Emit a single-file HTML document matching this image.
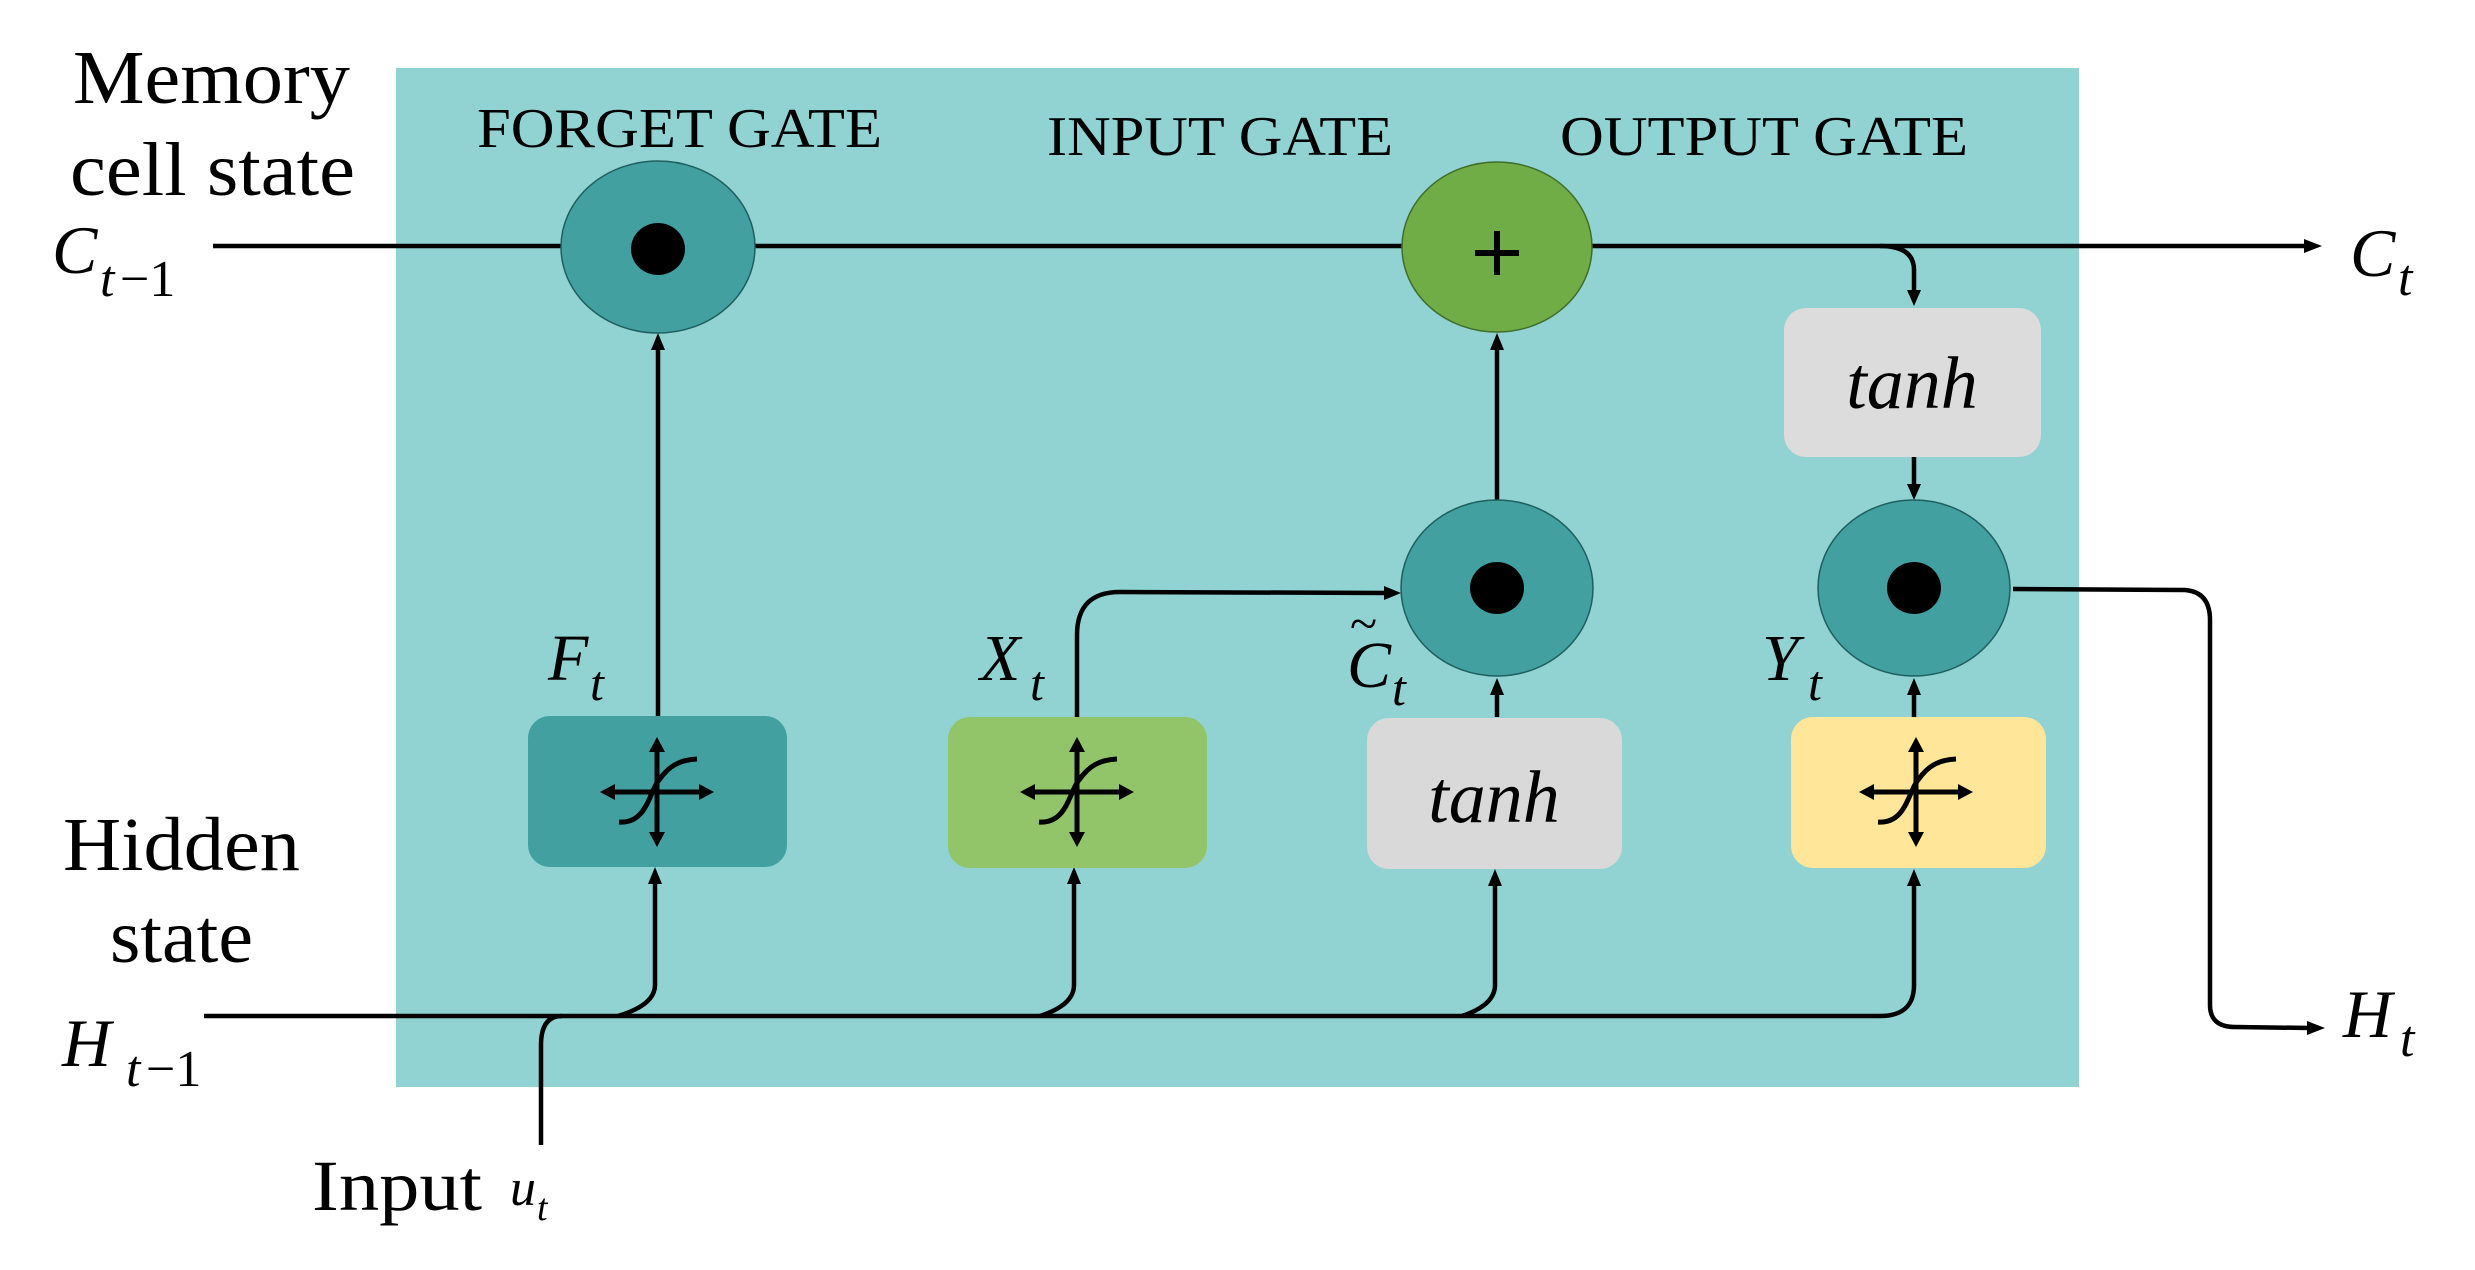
<!DOCTYPE html>
<html><head><meta charset="utf-8"><style>
html,body{margin:0;padding:0;background:#fff;}
svg{display:block;}
text{font-family:"Liberation Serif",serif;fill:#000;}
</style></head><body>
<svg width="2475" height="1270" viewBox="0 0 2475 1270" xmlns="http://www.w3.org/2000/svg">
<defs>
<marker id="ah" markerWidth="8" markerHeight="8" refX="6" refY="4" orient="auto" markerUnits="userSpaceOnUse" viewBox="0 0 8 8">
</marker>
<g id="sig">
 <line x1="-48" y1="0" x2="48" y2="0" stroke="#000" stroke-width="5"/>
 <polygon points="-57,0 -42,-8 -42,8" fill="#000"/>
 <polygon points="57,0 42,-8 42,8" fill="#000"/>
 <line x1="0" y1="-45" x2="0" y2="45" stroke="#000" stroke-width="5"/>
 <polygon points="0,-55 -8,-40 8,-40" fill="#000"/>
 <polygon points="0,55 -8,40 8,40" fill="#000"/>
 <path d="M-38,30 C-10,32 -8,0 2,-12 C12,-26 22,-32 40,-33" fill="none" stroke="#000" stroke-width="5"/>
</g>
</defs>
<rect x="396" y="68" width="1683" height="1019" fill="#91d3d3"/>

<!-- titles -->
<text x="477" y="147" font-size="56" textLength="405" lengthAdjust="spacingAndGlyphs">FORGET GATE</text>
<text x="1047" y="155" font-size="56" textLength="346" lengthAdjust="spacingAndGlyphs">INPUT GATE</text>
<text x="1560" y="155" font-size="56" textLength="408" lengthAdjust="spacingAndGlyphs">OUTPUT GATE</text>

<!-- left labels -->
<text x="73" y="103" font-size="76" textLength="277" lengthAdjust="spacingAndGlyphs">Memory</text>
<text x="70" y="195" font-size="76" textLength="285" lengthAdjust="spacingAndGlyphs">cell state</text>
<text x="52" y="273" font-size="68" font-style="italic">C</text>
<text x="100" y="296" font-size="52" font-style="italic">t</text>
<text x="120" y="296" font-size="52">−1</text>
<text x="63" y="870" font-size="76" textLength="237" lengthAdjust="spacingAndGlyphs">Hidden</text>
<text x="110" y="962" font-size="76" textLength="143" lengthAdjust="spacingAndGlyphs">state</text>
<text x="62" y="1066" font-size="68" font-style="italic">H</text>
<text x="126" y="1086" font-size="52" font-style="italic">t</text>
<text x="146" y="1086" font-size="52">−1</text>
<text x="312" y="1210" font-size="72" textLength="170" lengthAdjust="spacingAndGlyphs">Input</text>
<text x="510" y="1205" font-size="52" font-style="italic">u</text>
<text x="537" y="1220" font-size="38" font-style="italic">t</text>

<!-- right labels -->
<text x="2350" y="276" font-size="68" font-style="italic">C</text>
<text x="2398" y="295" font-size="52" font-style="italic">t</text>
<text x="2343" y="1037" font-size="68" font-style="italic">H</text>
<text x="2400" y="1056" font-size="52" font-style="italic">t</text>

<!-- C line -->
<g stroke="#000" stroke-width="4.5" fill="none">
 <line x1="213" y1="246" x2="2310" y2="246"/>
 <path d="M1880,246 Q1914,246 1914,270 L1914,296"/>
 <!-- H line -->
 <path d="M204,1016 L1880,1016 Q1914,1016 1914,985 L1914,880"/>
 <!-- input -->
 <path d="M541,1145 L541,1045 Q541,1016 562,1016"/>
 <!-- branches -->
 <path d="M618,1016 Q655,1005 655,985 L655,880"/>
 <path d="M1040,1016 Q1074,1005 1074,985 L1074,880"/>
 <path d="M1462,1016 Q1495,1005 1495,985 L1495,880"/>
 <!-- vertical arrows -->
 <line x1="658" y1="716" x2="658" y2="345"/>
 <line x1="1497" y1="501" x2="1497" y2="345"/>
 <line x1="1497" y1="717" x2="1497" y2="690"/>
 <line x1="1914" y1="457" x2="1914" y2="488"/>
 <line x1="1914" y1="717" x2="1914" y2="690"/>
 <!-- X to candidate -->
 <path d="M1077,717 L1077,635 Q1077,592 1120,592 L1388,593"/>
 <!-- H out -->
 <path d="M2013,589 L2185,590 Q2210,592 2210,620 L2210,1005 Q2210,1027 2235,1027 L2310,1028"/>
</g>
<!-- arrowheads -->
<g fill="#000">
 <polygon points="2322,246 2304,239 2304,253"/>
 <polygon points="2325,1028 2307,1021 2307,1035"/>
 <polygon points="1914,306 1907,290 1921,290"/>
 <polygon points="655,867 648,884 662,884"/>
 <polygon points="1074,867 1067,884 1081,884"/>
 <polygon points="1495,869 1488,886 1502,886"/>
 <polygon points="1914,869 1907,886 1921,886"/>
 <polygon points="658,333 651,350 665,350"/>
 <polygon points="1497,333 1490,350 1504,350"/>
 <polygon points="1497,678 1490,695 1504,695"/>
 <polygon points="1914,500 1907,484 1921,484"/>
 <polygon points="1914,678 1907,695 1921,695"/>
 <polygon points="1401,593 1384,586 1384,600"/>
</g>

<!-- circles -->
<ellipse cx="658" cy="247" rx="97" ry="86" fill="#42a0a0" stroke="#1f5f5f" stroke-width="1.5"/>
<ellipse cx="658" cy="249" rx="27" ry="26" fill="#000"/>
<ellipse cx="1497" cy="247" rx="95" ry="85" fill="#70ad47" stroke="#3f6f2a" stroke-width="1.5"/>
<line x1="1475" y1="253" x2="1519" y2="253" stroke="#000" stroke-width="6"/>
<line x1="1497" y1="231" x2="1497" y2="275" stroke="#000" stroke-width="6"/>
<ellipse cx="1497" cy="588" rx="96" ry="88" fill="#42a0a0" stroke="#1f5f5f" stroke-width="1.5"/>
<ellipse cx="1497" cy="588" rx="27" ry="26" fill="#000"/>
<ellipse cx="1914" cy="588" rx="96" ry="88" fill="#42a0a0" stroke="#1f5f5f" stroke-width="1.5"/>
<ellipse cx="1914" cy="588" rx="27" ry="26" fill="#000"/>

<!-- boxes -->
<rect x="528" y="716" width="259" height="151" rx="22" fill="#42a0a0"/>
<use href="#sig" x="657" y="792"/>
<rect x="948" y="717" width="259" height="151" rx="22" fill="#92c46a"/>
<use href="#sig" x="1077" y="792"/>
<rect x="1367" y="718" width="255" height="151" rx="22" fill="#d9d9d9"/>
<text x="1494" y="822" font-size="74" font-style="italic" text-anchor="middle">tanh</text>
<rect x="1791" y="717" width="255" height="151" rx="22" fill="#ffe699"/>
<use href="#sig" x="1916" y="792"/>
<rect x="1784" y="308" width="257" height="149" rx="22" fill="#dcdcdc"/>
<text x="1912" y="408" font-size="74" font-style="italic" text-anchor="middle">tanh</text>

<!-- gate labels -->
<text x="548" y="680" font-size="66" font-style="italic">F</text>
<text x="590" y="700" font-size="50" font-style="italic">t</text>
<text x="980" y="680" font-size="66" font-style="italic">X</text>
<text x="1030" y="700" font-size="50" font-style="italic">t</text>
<text x="1347" y="687" font-size="66" font-style="italic">C</text>
<text x="1350" y="640" font-size="50">~</text>
<text x="1392" y="705" font-size="50" font-style="italic">t</text>
<text x="1762" y="680" font-size="66" font-style="italic">Y</text>
<text x="1808" y="700" font-size="50" font-style="italic">t</text>
</svg>
</body></html>
